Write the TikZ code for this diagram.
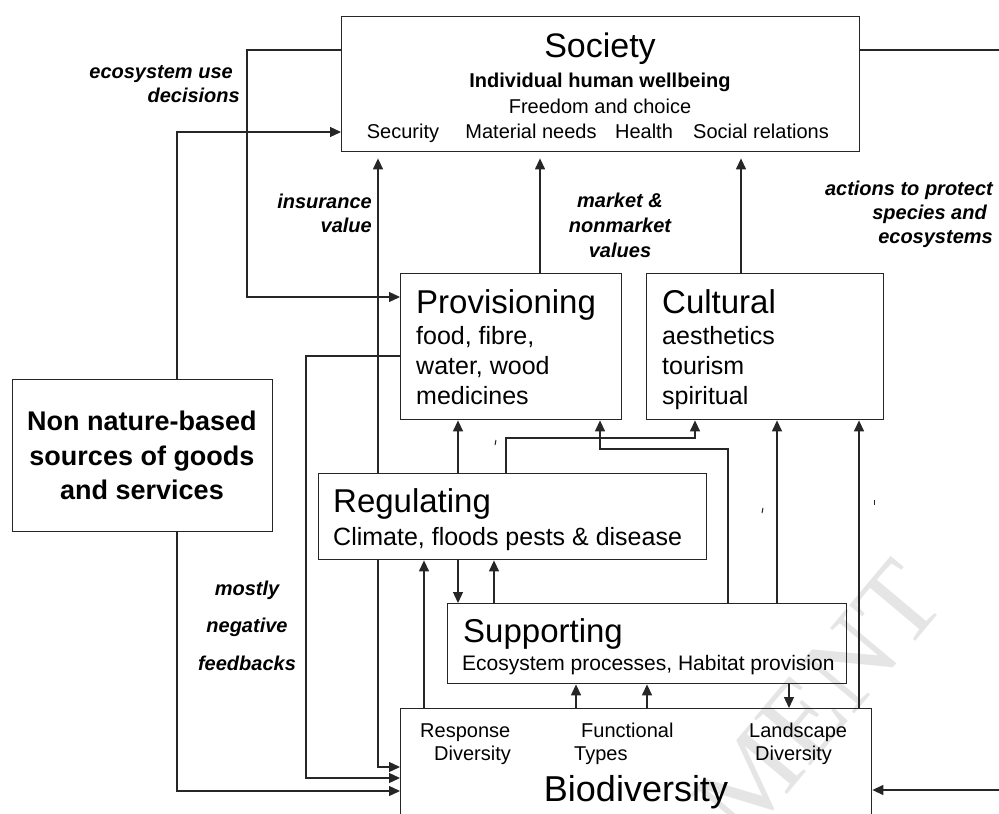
\documentclass[tikz,border=0pt]{standalone}
\usepackage{fontspec}
\setmainfont{Liberation Sans}
\newfontfamily\wmfont{Liberation Serif}
\usetikzlibrary{arrows.meta}

\newcommand\fsTitle{\fontsize{33}{38}\selectfont}
\newcommand\fsBig{\fontsize{36}{40}\selectfont}
\newcommand\fsMid{\fontsize{25}{29}\selectfont}
\newcommand\fsSmall{\fontsize{20}{24}\selectfont}

\begin{document}
\begin{tikzpicture}[x=1pt,y=-1pt,
  box/.style={draw=black!85, line width=1.4pt, inner sep=0pt, anchor=north west},
  ln/.style={draw=black!85, line width=1.3pt},
  arr/.style={ln, -{Triangle[length=11pt,width=10pt]}},
  txt/.style={inner sep=0pt, anchor=base west, text=black},
  ctxt/.style={inner sep=0pt, anchor=base, text=black},
  lbl/.style={inner sep=0pt, text=black, font=\fsSmall\bfseries\itshape},
  wm/.style={inner sep=0pt, text=black!10, font=\wmfont\fontsize{112}{112}\selectfont}
]
\useasboundingbox (0,0) rectangle (999,814);
\clip (0,0) rectangle (999,814);
\fill[white] (0,0) rectangle (999,814);

% faint watermark in the lower right
\node[wm, rotate=50] (wmark) at (818,700) {MENT};

% ---------- boxes ----------
\node[box, minimum width=518, minimum height=135] (soc) at (341,16) {};
\node[box, minimum width=221, minimum height=146] (prov) at (400,273) {};
\node[box, minimum width=237, minimum height=146] (cult) at (646,273) {};
\node[box, minimum width=260, minimum height=152] (nonnat) at (12,379) {};
\node[box, minimum width=388, minimum height=86] (reg) at (318,473) {};
\node[box, minimum width=399, minimum height=80] (sup) at (447,603) {};
\node[box, minimum width=471, minimum height=140] (bio) at (400,708) {};

% ---------- box texts ----------
\node[ctxt, font=\fontsize{34}{38}\selectfont] (socT) at (600,57) {Society};
\node[ctxt, font=\fsSmall\bfseries] (socA) at (600,87) {Individual human wellbeing};
\node[ctxt, font=\fsSmall] (socB) at (600,113) {Freedom and choice};
\node[ctxt, font=\fsSmall] (socC1) at (403,138) {Security};
\node[ctxt, font=\fsSmall] (socC2) at (531,138) {Material needs};
\node[ctxt, font=\fsSmall] (socC3) at (644,138) {Health};
\node[ctxt, font=\fsSmall] (socC4) at (761,138) {Social relations};

\node[txt, font=\fsTitle] (provT) at (416,313) {Provisioning};
\node[txt, font=\fsMid] (provA) at (416,344) {food, fibre,};
\node[txt, font=\fsMid] (provB) at (416,374) {water, wood};
\node[txt, font=\fsMid] (provC) at (416,404) {medicines};

\node[txt, font=\fsTitle] (cultT) at (662,313) {Cultural};
\node[txt, font=\fsMid] (cultA) at (662,344) {aesthetics};
\node[txt, font=\fsMid] (cultB) at (662,374) {tourism};
\node[txt, font=\fsMid] (cultC) at (662,404) {spiritual};

\node[ctxt, font=\fontsize{27}{31}\selectfont\bfseries] (nnA) at (142,430) {Non nature-based};
\node[ctxt, font=\fontsize{27}{31}\selectfont\bfseries] (nnB) at (142,465) {sources of goods};
\node[ctxt, font=\fontsize{27}{31}\selectfont\bfseries] (nnC) at (142,499) {and services};

\node[txt, font=\fsTitle] (regT) at (333,512) {Regulating};
\node[txt, font=\fsMid] (regA) at (333,545) {Climate, floods pests \& disease};

\node[txt, font=\fsTitle] (supT) at (463,642) {Supporting};
\node[txt, font=\fontsize{21}{25}\selectfont] (supA) at (462,670) {Ecosystem processes, Habitat provision};

\node[txt, font=\fsSmall] (bioA1) at (420,737) {Response};
\node[txt, font=\fsSmall] (bioA2) at (434,760) {Diversity};
\node[txt, font=\fsSmall] (bioB1) at (581,737) {Functional};
\node[txt, font=\fsSmall] (bioB2) at (574,760) {Types};
\node[txt, font=\fsSmall] (bioC1) at (749,737) {Landscape};
\node[txt, font=\fsSmall] (bioC2) at (755,760) {Diversity};
\node[ctxt, font=\fsBig] (bioT) at (636,801) {Biodiversity};

% ---------- connector labels ----------
\node[lbl, anchor=base east] (lEco1) at (233,78) {ecosystem use};
\node[lbl, anchor=base east] (lEco2) at (240,102) {decisions};
\node[lbl, anchor=base east] (lIns1) at (372,208) {insurance};
\node[lbl, anchor=base east] (lIns2) at (372,232) {value};
\node[lbl, anchor=base] (lMkt1) at (620,207) {market \&};
\node[lbl, anchor=base] (lMkt2) at (620,232) {nonmarket};
\node[lbl, anchor=base] (lMkt3) at (620,257) {values};
\node[lbl, anchor=base east] (lAct1) at (993,195) {actions to protect};
\node[lbl, anchor=base east] (lAct2) at (987,219) {species and};
\node[lbl, anchor=base east] (lAct3) at (993,243) {ecosystems};
\node[lbl, anchor=base] (lNeg1) at (247,595) {mostly};
\node[lbl, anchor=base] (lNeg2) at (247,632) {negative};
\node[lbl, anchor=base] (lNeg3) at (247,670) {feedbacks};

% ---------- column / bend points ----------
\coordinate (dTop) at (247,50);
\coordinate (dProv) at (247,297);
\coordinate (nUp) at (177,132);
\coordinate (nDown) at (177,791);
\coordinate (pBend) at (306,356);
\coordinate (pDown) at (306,778);
\coordinate (xIns) at (378,767);
\coordinate (xMkt) at (540,0);
\coordinate (xCul) at (741,0);
\coordinate (rTop) at (1010,50);
\coordinate (rBot) at (1010,790);
\coordinate (xRP) at (458,0);
\coordinate (rcA) at (506,438);
\coordinate (rcB) at (695,438);
\coordinate (spA) at (728,449);
\coordinate (spB) at (600,449);
\coordinate (xSC) at (777,0);
\coordinate (xBC) at (859,0);
\coordinate (xBR) at (424,0);
\coordinate (xSR) at (494,0);
\coordinate (xBS1) at (576,0);
\coordinate (xBS2) at (647,0);
\coordinate (xSB) at (789,0);

% ---------- connectors ----------
% society feedback loops
\draw[arr] (soc.west |- dTop) -- (dTop) -- (dProv) -- (prov.west |- dProv);
\draw[arr] (soc.east |- rTop) -- (rTop) -- (rBot) -- (bio.east |- rBot);
\draw[arr] (nonnat.north -| nUp) -- (nUp) -- (soc.west |- nUp);
\draw[arr] (nonnat.south -| nDown) -- (nDown) -- (bio.west |- nDown);

% negative feedbacks into biodiversity
\draw[arr] (prov.west |- pBend) -- (pBend) -- (pDown) -- (bio.west |- pDown);
\draw[arr] (reg.south -| xIns) -- (xIns) -- (bio.west |- xIns);

% values to society
\draw[arr, shorten >=6pt] (reg.north -| xIns) -- (soc.south -| xIns);
\draw[arr, shorten >=6pt] (prov.north -| xMkt) -- (soc.south -| xMkt);
\draw[arr, shorten >=6pt] (cult.north -| xCul) -- (soc.south -| xCul);

% services feeding provisioning and cultural
\draw[arr] (reg.north -| xRP) -- (prov.south -| xRP);
\draw[arr] (reg.north -| rcA) -- (rcA) -- (rcB) -- (cult.south -| rcB);
\draw[arr] (sup.north -| spA) -- (spA) -- (spB) -- (prov.south -| spB);
\draw[arr] (sup.north -| xSC) -- (cult.south -| xSC);
\draw[arr] (bio.north -| xBC) -- (cult.south -| xBC);

% regulating / supporting / biodiversity
\draw[arr] (bio.north -| xBR) -- (reg.south -| xBR);
\draw[arr] (reg.south -| xRP) -- (sup.north -| xRP);
\draw[arr] (sup.north -| xSR) -- (reg.south -| xSR);
\draw[arr] (bio.north -| xBS1) -- (sup.south -| xBS1);
\draw[arr] (bio.north -| xBS2) -- (sup.south -| xBS2);
\draw[arr] (sup.south -| xSB) -- (bio.north -| xSB);

% stray tick marks
\draw[ln, line width=1pt] (496,440) -- (495,445);
\draw[ln, line width=1pt] (763,508) -- (762,513);
\draw[ln, line width=1pt] (874,500) -- (874,505);
\end{tikzpicture}
\end{document}
